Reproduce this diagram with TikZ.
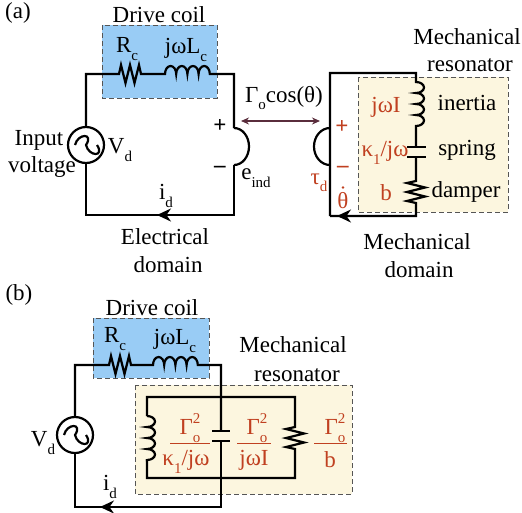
\documentclass[tikz,border=0pt]{standalone}
\usepackage{fontspec}
\setmainfont{Liberation Serif}
\usetikzlibrary{arrows.meta}
\definecolor{coilblue}{HTML}{99CCF5}
\definecolor{resyellow}{HTML}{FCF6DF}
\definecolor{labred}{HTML}{C04020}
\definecolor{dashgray}{HTML}{555555}
\definecolor{couplebrown}{HTML}{5A2D3C}
\newcommand{\sbs}[1]{\raisebox{-.32em}{\fontsize{15}{15}\selectfont #1}}
\newcommand{\gam}{Γ\rlap{\raisebox{.48em}{\fontsize{15}{15}\selectfont 2}}\raisebox{-.32em}{\fontsize{15}{15}\selectfont o}}
\newcommand{\hzig}{-- ++(2,0) -- ++(2,-9) -- ++(4.5,18) -- ++(4.5,-18) -- ++(4.5,18) -- ++(4.5,-18) -- ++(2,9) -- ++(2,0)}
\newcommand{\vzig}{-- ++(0,2) -- ++(-9,2) -- ++(18,4.5) -- ++(-18,4.5) -- ++(18,4.5) -- ++(-18,4.5) -- ++(9,2) -- ++(0,2)}
\newcommand{\hhump}{arc[start angle=180,end angle=0,x radius=5.6pt,y radius=8pt]}
\newcommand{\vhump}{arc[start angle=90,end angle=-90,x radius=8pt,y radius=5.5pt]}
\newcommand{\sine}[1]{\draw[wire] (#1) ++(-11,0) .. controls ++(3,-12) and ++(8,-12) .. ++(11,0) .. controls ++(3,12) and ++(8,12) .. ++(11,0);}
\tikzset{
  wire/.style={line width=2.2pt,line join=miter,black},
  txt/.style={font=\fontsize{23}{23}\selectfont,inner sep=0pt,text=black},
  red/.style={font=\fontsize{23}{23}\selectfont,inner sep=0pt,text=labred},
  coilbox/.style={draw=dashgray,dashed,dash pattern=on 5pt off 3pt,line width=1pt,fill=coilblue},
  resbox/.style={draw=dashgray,dashed,dash pattern=on 5pt off 3pt,line width=1pt,fill=resyellow},
  src/.style={circle,draw,line width=2.2pt,minimum size=36pt,inner sep=0pt},
  plate/.style={line width=2.4pt},
  fracbar/.style={draw=labred,line width=.8pt},
  flow/.style={-{Stealth[length=14pt,width=13pt]},line width=2.2pt}
}
\begin{document}
\begin{tikzpicture}[x=1pt,y=-1pt]
\useasboundingbox (0,0) rectangle (522,512);
% ---------- (a)
\node[txt] (la) at (18,13) {(a)};
\node[txt] (dca) at (159,15) {Drive coil};
\draw[coilbox] (102,25) rectangle (217,98);
\draw[resbox] (358,77) rectangle (508,212);
\coordinate (atl) at (86,74);
\coordinate (atr) at (234,74);
\coordinate (abl) at (86,215);
\coordinate (abr) at (234,215);
\coordinate (ar1) at (117,74);
\coordinate (al1) at (165,74);
\coordinate (ae1) at (234,128);
\coordinate (ae2) at (234,165);
\node[src] (asrc) at (86,145) {};
\sine{asrc}
\draw[wire] (asrc.north) -- (atl) -- (ar1) \hzig -- (al1) \hhump \hhump \hhump \hhump -- (atr) -- (ae1);
\draw[wire] (ae1) arc[start angle=90,end angle=-90,x radius=15pt,y radius=18.5pt];
\draw[wire] (ae2) -- (abr) -- (abl) -- (asrc.south);
\coordinate (aarr1) at (176,215);
\coordinate (aarr2) at (157,215);
\draw[flow] (aarr1) -- (aarr2);
\node[txt] at (127,49) {R\sbs{c}};
\node[txt] at (186,50) {jωL\sbs{c}};
\node[txt] at (39,140) {Input};
\node[txt] at (42,167) {voltage};
\node[txt] at (120,150) {V\sbs{d}};
\node[txt] at (166,196) {i\sbs{d}};
\node[txt] at (256,178) {e\sbs{ind}};
\node[txt] at (220,126) {\textbf{+}};
\node[txt] at (220,169) {\textbf{–}};
\node[txt] at (165,237) {Electrical};
\node[txt] at (168,265) {domain};
\node[txt] at (284,98) {Γ\sbs{o}cos(θ)};
\coordinate (cpl) at (241,121);
\coordinate (cpr) at (320,121);
\draw[{Stealth[length=8pt,width=7pt]}-{Stealth[length=8pt,width=7pt]},couplebrown,line width=1.2pt] (cpl) -- (cpr);
% right loop
\coordinate (bl) at (330,216);
\coordinate (tl) at (330,73);
\coordinate (tr) at (416,73);
\coordinate (br) at (416,216);
\coordinate (m1) at (416,82);
\coordinate (c1) at (416,147);
\coordinate (c2) at (416,157);
\coordinate (r1) at (416,179);
\coordinate (th1) at (330,128);
\coordinate (th2) at (330,165);
\draw[wire] (bl) -- (tl) -- (tr) -- (m1) \vhump \vhump \vhump \vhump -- (c1);
\draw[wire] (c2) -- (r1) \vzig -- (br) -- (bl);
\draw[wire] (th1) arc[start angle=90,end angle=270,x radius=16pt,y radius=18.5pt];
\draw[plate] (407,147) -- (426,147);
\draw[plate] (407,157) -- (426,157);
\coordinate (marr1) at (358,216);
\coordinate (marr2) at (337,216);
\draw[flow] (marr1) -- (marr2);
\node[red] at (342,127) {\textbf{+}};
\node[red] at (343,169) {\textbf{–}};
\node[red] at (386,107) {jωI};
\node[red] at (385,153) {κ\sbs{1}/jω};
\node[red] at (386,193) {b};
\node[red] at (319,183) {τ\sbs{d}};
\node[red,anchor=base] (thetad) at (343,208) {θ};
\fill[labred] (343,187.5) circle[radius=1.4pt];
\node[txt] at (467,37) {Mechanical};
\node[txt] at (470,65) {resonator};
\node[txt] at (467,103) {inertia};
\node[txt] at (467,150) {spring};
\node[txt] at (466,192) {damper};
\node[txt] at (417,242) {Mechanical};
\node[txt] at (419,270) {domain};
% ---------- (b)
\node[txt] (lb) at (19,295) {(b)};
\draw[coilbox] (93,318) rectangle (209,378);
\draw[resbox] (135,385) rectangle (352,494);
\node[txt] at (152,308) {Drive coil};
\node[txt] at (293,345) {Mechanical};
\node[txt] at (297,375) {resonator};
\coordinate (btl) at (75,365);
\coordinate (btr) at (221,365);
\coordinate (bbl) at (75,507);
\coordinate (bbr) at (221,507);
\coordinate (br1) at (107,365);
\coordinate (bl1) at (153,365);
\coordinate (bc1) at (221,431);
\coordinate (bc2) at (221,441);
\node[src] (bsrc) at (75,435) {};
\sine{bsrc}
\draw[wire] (bsrc.north) -- (btl) -- (br1) \hzig -- (bl1) \hhump \hhump \hhump \hhump -- (btr) -- (bc1);
\draw[wire] (bc2) -- (bbr) -- (bbl) -- (bsrc.south);
\draw[plate] (212,431) -- (230,431);
\draw[plate] (212,441) -- (230,441);
\coordinate (itl) at (147,397);
\coordinate (itr) at (295,397);
\coordinate (ibl) at (147,478);
\coordinate (ibr) at (295,478);
\coordinate (il1) at (147,416);
\coordinate (il2) at (147,459);
\coordinate (ir1) at (295,425);
\draw[wire] (il1) -- (itl) -- (itr) -- (ir1) \vzig -- (ibr) -- (ibl) -- (il2);
\draw[wire] (il1) \vhump \vhump \vhump \vhump -- (il2);
\coordinate (barr1) at (120,507);
\coordinate (barr2) at (100,507);
\draw[flow] (barr1) -- (barr2);
\node[txt] at (115,339) {R\sbs{c}};
\node[txt] at (175,341) {jωL\sbs{c}};
\node[txt] at (43,443) {V\sbs{d}};
\node[txt] at (110,487) {i\sbs{d}};
\node[red] at (190,428) {\gam};
\node[red] at (186,462) {κ\sbs{1}/jω};
\node[red] at (257,428) {\gam};
\node[red] at (254,460) {jωI};
\node[red] at (335,428) {\gam};
\node[red] at (330,460) {b};
\draw[fracbar] (170,443) -- (210,443);
\draw[fracbar] (237,443) -- (271,443);
\draw[fracbar] (314,443) -- (347,443);
\end{tikzpicture}
\end{document}
